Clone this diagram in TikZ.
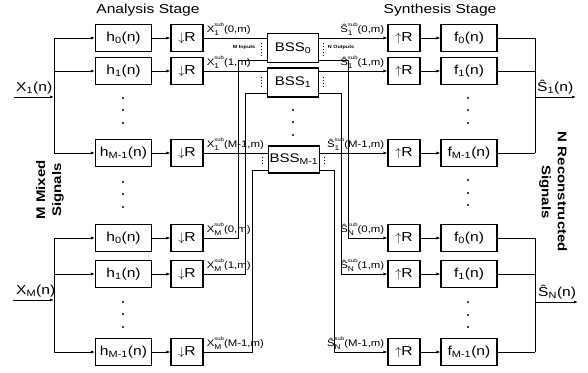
\documentclass[tikz,border=0pt]{standalone}
\usepackage{fontspec}
\setmainfont{Liberation Sans}[FakeStretch=1.2]
\usetikzlibrary{arrows.meta,positioning}
\newlength{\supsubw}
\newcommand{\supsub}[2]{\setbox0=\hbox{\fontsize{5}{5}\selectfont#1}%
  \setbox2=\hbox{\fontsize{7}{7}\selectfont#2}%
  \ifdim\wd0>\wd2 \setlength{\supsubw}{\wd0}\else\setlength{\supsubw}{\wd2}\fi
  \makebox[\supsubw][l]{\rlap{\raisebox{1.25ex}{\box0}}\raisebox{-0.7ex}{\box2}}}
\tikzset{
  blk/.style={draw,line width=1.1pt,minimum width=56pt,minimum height=27pt,
              inner sep=1pt,font=\fontsize{13}{14}\selectfont},
  rblk/.style={blk,minimum width=32pt},
  bss/.style={blk,minimum width=51pt,minimum height=29pt,font=\fontsize{12.5}{14}\selectfont},
  flow/.style={-{Latex[length=4pt,width=3pt]},line width=0.8pt},
  wire/.style={line width=0.8pt},
  sig/.style={inner sep=0pt,font=\fontsize{9.5}{10}\selectfont},
  ttl/.style={font=\fontsize{13}{14}\selectfont},
  side/.style={align=center,font=\bfseries\fontsize{12.5}{16}\selectfont},
  note/.style={inner sep=0pt,font=\bfseries\fontsize{4.5}{5}\selectfont},
  dots/.style={dotted,line width=1pt}
}
\begin{document}
\begin{tikzpicture}[x=1pt,y=-1pt]
  \useasboundingbox (0,0) rectangle (588,372);
  \node[ttl] (ana) at (148,10) {Analysis Stage};
  \node[ttl] (syn) at (440,10) {Synthesis Stage};
  % filter rows
  \foreach \r/\y/\k in {1/38/0,2/71/1,3/153/M-1,4/238/0,5/274/1,6/352/M-1}{
    \node[blk] (h\r) at (123.5,\y) {h\textsubscript{\k}(n)};
    \node[rblk] (d\r) at (187,\y) {$\downarrow$R};
    \node[rblk] (u\r) at (404,\y) {$\uparrow$R};
    \node[blk] (f\r) at (469,\y) {f\textsubscript{\k}(n)};
    \coordinate (bl\r) at (54,\y);
    \coordinate (br\r) at (535,\y);
    \draw[flow] (bl\r) -- (h\r);
    \draw[flow] (h\r) -- (d\r);
    \draw[flow] (u\r) -- (f\r);
    \draw[wire] (f\r) -- (br\r);
  }
  % separation blocks
  \node[bss] (b0) at (293,48) {BSS\textsubscript{0}};
  \node[bss] (b1) at (293,82.5) {BSS\textsubscript{1}};
  \node[bss,minimum height=27pt] (bm) at (294,159.5) {BSS\textsubscript{M-1}};
  \node[note] (min) at (244,47) {M Inputs};
  \node[note] (nout) at (341,47) {N Outputs};
  % mixed inputs
  \coordinate (x1) at (14,97); \coordinate (j1) at (54,97);
  \coordinate (x2) at (13,300); \coordinate (j2) at (54,300);
  \draw[flow] (x1) -- (j1);
  \draw[flow] (x2) -- (j2);
  \node[inner sep=0pt,anchor=south west,font=\fontsize{13}{14}\selectfont] (xl1) at ([shift={(2,-3)}]x1) {X\textsubscript{1}(n)};
  \node[inner sep=0pt,anchor=south west,font=\fontsize{13}{14}\selectfont] (xl2) at ([shift={(3,-3)}]x2) {X\textsubscript{M}(n)};
  \draw[wire] (bl1) -- (bl3);
  \draw[wire] (bl4) -- (bl6);
  \node[side,rotate=90] (mix) at (50,190) {M Mixed\\Signals};
  % subband signals into BSS
  \draw[wire] (d1) -- (d1 -| b0.west);
  \draw[wire] (d2) -- (d2 -| b1.west);
  \draw[wire] (d3) -- (d3 -| bm.west);
  \coordinate (c4) at (238,60);
  \coordinate (c5) at (245,93);
  \coordinate (c6) at (252,170);
  \draw[wire] (d4) -| (c4) -- (c4 -| b0.west);
  \draw[wire] (d5) -| (c5) -- (c5 -| b1.west);
  \draw[wire] (d6) -| (c6) -- (c6 -| bm.west);
  \node[sig,anchor=south west] (xs1) at ([shift={(3,-2)}]d1.east) {X\supsub{sub}{1}(0,m)};
  \node[sig,anchor=south west] (xs2) at ([shift={(3,-2)}]d2.east) {X\supsub{sub}{1}(1,m)};
  \node[sig,anchor=south west] (xs3) at ([shift={(3,-2)}]d3.east) {X\supsub{sub}{1}(M-1,m)};
  \node[sig,anchor=south west] (xs4) at ([shift={(3,-2)}]d4.east) {X\supsub{sub}{M}(0,m)};
  \node[sig,anchor=south west] (xs5) at ([shift={(3,-2)}]d5.east) {X\supsub{sub}{M}(1,m)};
  \node[sig,anchor=south west] (xs6) at ([shift={(3,-2)}]d6.east) {X\supsub{sub}{M}(M-1,m)};
  \draw[dots] ([shift={(-5,-5)}]b0.west) -- ([shift={(-5,8)}]b0.west);
  \draw[dots] ([shift={(-5,-6)}]b1.west) -- ([shift={(-5,6)}]b1.west);
  \draw[dots] ([shift={(-5,-3)}]bm.west) -- ([shift={(-5,6)}]bm.west);
  \draw[dots] ([shift={(4,-5)}]b0.east) -- ([shift={(4,8)}]b0.east);
  \draw[dots] ([shift={(4,-6)}]b1.east) -- ([shift={(4,6)}]b1.east);
  \draw[dots] ([shift={(4,-3)}]bm.east) -- ([shift={(4,6)}]bm.east);
  % separated outputs
  \draw[flow] (b0.east |- u1) -- (u1);
  \draw[flow] (b1.east |- u2) -- (u2);
  \draw[flow] (bm.east |- u3) -- (u3);
  \coordinate (e4) at (348,60);
  \coordinate (e5) at (341,93);
  \coordinate (e6) at (334,170);
  \draw[flow] (e4 -| b0.east) -- (e4) |- (u4);
  \draw[flow] (e5 -| b1.east) -- (e5) |- (u5);
  \draw[flow] (e6 -| bm.east) -- (e6) |- (u6);
  \node[sig,anchor=south east] (ss1) at ([shift={(-3,-2)}]u1.west) {Ŝ\supsub{sub}{1}(0,m)};
  \node[sig,anchor=south east] (ss2) at ([shift={(-3,-2)}]u2.west) {Ŝ\supsub{sub}{1}(1,m)};
  \node[sig,anchor=south east] (ss3) at ([shift={(-3,-2)}]u3.west) {Ŝ\supsub{sub}{1}(M-1,m)};
  \node[sig,anchor=south east] (ss4) at ([shift={(-3,-2)}]u4.west) {Ŝ\supsub{sub}{N}(0,m)};
  \node[sig,anchor=south east] (ss5) at ([shift={(-3,-2)}]u5.west) {Ŝ\supsub{sub}{N}(1,m)};
  \node[sig,anchor=south east] (ss6) at ([shift={(-3,-2)}]u6.west) {Ŝ\supsub{sub}{N}(M-1,m)};
  % reconstructed outputs
  \draw[wire] (br1) -- (br3);
  \draw[wire] (br4) -- (br6);
  \coordinate (o1) at (535,97); \coordinate (q1) at (576,97);
  \coordinate (o2) at (535,302); \coordinate (q2) at (578,302);
  \draw[flow] (o1) -- (q1);
  \draw[flow] (o2) -- (q2);
  \node[inner sep=0pt,anchor=south west,font=\fontsize{13}{14}\selectfont] (sl1) at ([shift={(2,-3)}]o1) {Ŝ\textsubscript{1}(n)};
  \node[inner sep=0pt,anchor=south west,font=\fontsize{13}{14}\selectfont] (sl2) at ([shift={(3,-3)}]o2) {Ŝ\textsubscript{N}(n)};
  \node[side,rotate=-90] (rec) at (553,192) {N Reconstructed\\Signals};
  % continuation dots
  \foreach \x/\y in {123/98,123/110,123/123,123/182,123/194,123/207,123/302,123/314,123/327,
                     468/98,468/110,468/123,468/180,468/193,468/205,468/302,468/315,468/327,
                     293/110,293/122,293/135}
    \fill (\x,\y) circle (1.2);
\end{tikzpicture}
\end{document}
